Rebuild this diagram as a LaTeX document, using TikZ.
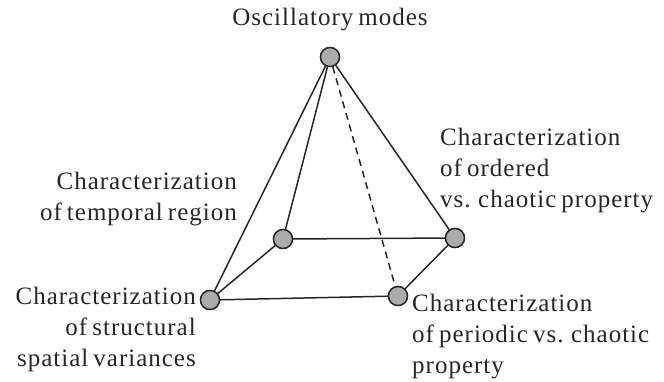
\documentclass[tikz,border=0pt]{standalone}
\usepackage{fontspec}
\setmainfont{Liberation Serif}[LetterSpace=4,WordSpace=0.7]
\begin{document}
\begin{tikzpicture}[x=1pt,y=-1pt,
  vert/.style={circle,draw=black!85,fill=black!33,line width=1.4pt,minimum size=19pt,inner sep=0pt},
  edge/.style={draw=black!85,line width=1.5pt},
  hidden/.style={edge,dash pattern=on 7pt off 5pt},
  lbl/.style={font=\fontsize{25}{31}\selectfont,inner sep=0pt,text=black!85}]
\useasboundingbox (0,0) rectangle (664,381);
\node[vert] (A) at (330,57) {};
\node[vert] (B) at (283,239) {};
\node[vert] (C) at (455,238) {};
\node[vert] (D) at (210,300) {};
\node[vert] (E) at (398,296) {};
\draw[edge] (A) -- (D);
\draw[edge] (A) -- (B);
\draw[edge] (A) -- (C);
\draw[hidden] (A) -- (E);
\draw[edge] (B) -- (C);
\draw[edge] (D) -- (B);
\draw[edge] (D) -- (E);
\draw[edge] (E) -- (C);
\node[vert] at (A) {};
\node[vert] at (B) {};
\node[vert] at (C) {};
\node[vert] at (D) {};
\node[vert] at (E) {};
\node[lbl,anchor=base] (tA) at (330,25) {Oscillatory modes};
\node[lbl,anchor=base east,align=right] (tB) at (237,220) {Characterization\\of temporal region};
\node[lbl,anchor=base west,align=left] (tC) at (440,207) {Characterization\\of ordered\\vs. chaotic property};
\node[lbl,anchor=base east,align=right] (tD) at (196,366) {Characterization\\of structural\\spatial variances};
\node[lbl,anchor=base west,align=left] (tE) at (412,373) {Characterization\\of periodic vs. chaotic\\property};
\end{tikzpicture}
\end{document}
